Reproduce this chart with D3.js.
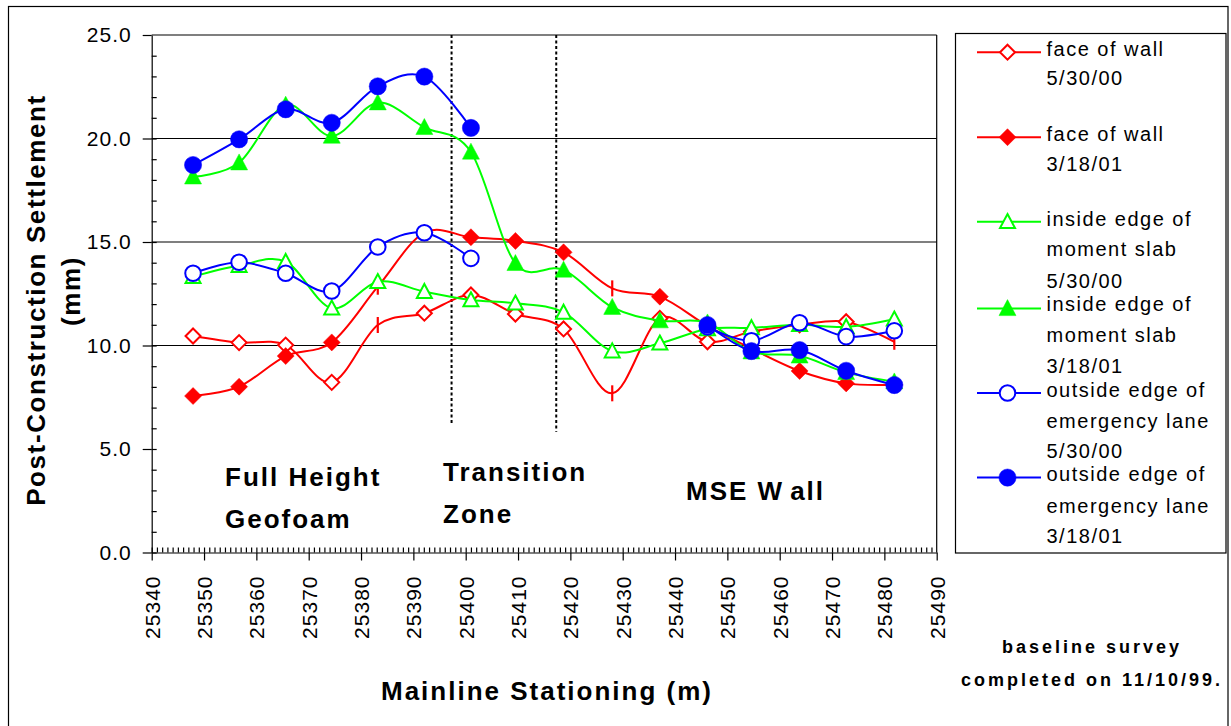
<!DOCTYPE html>
<html><head><meta charset="utf-8">
<script src="https://cdn.jsdelivr.net/npm/d3@7/dist/d3.min.js"></script>
<style>
body{margin:0;background:#fff}
text{font-family:"Liberation Sans",Arial,sans-serif;fill:#000}
</style>
</head><body>
<svg id="c" width="1231" height="726"></svg>
<script>
// ---------- data ----------
const stations = [25347.9, 25356.7, 25365.6, 25374.4, 25383.2, 25392.1, 25401.0, 25409.5,
                  25418.7, 25428.0, 25437.1, 25446.2, 25454.6, 25463.8, 25472.7, 25481.9];
const faceWall_053000 = [10.46, 10.14, 10.02, 8.22, 10.99, 11.56, 12.44, 11.52, 10.8, 7.69, 11.31, 10.18, 10.67, 11.0, 11.15, 10.18];
const faceWall_031801 = [7.56, 8.01, 9.49, 10.15, 12.84, 15.45, 15.23, 15.05, 14.5, 12.76, 12.36, 10.95, 9.85, 8.77, 8.17, 8.1];
const slab_053000 = [13.32, 13.86, 14.05, 11.8, 13.08, 12.6, 12.2, 12.04, 11.6, 9.73, 10.11, 10.8, 10.85, 11.0, 10.9, 11.27];
const slab_031801 = [18.15, 18.83, 21.62, 20.12, 21.73, 20.54, 19.35, 13.97, 13.65, 11.85, 11.2, 11.1, 9.7, 9.5, 8.7, 8.25];
const lane_053000 = [13.49, 14.02, 13.49, 12.63, 14.76, 15.45, 14.21, null, null, null, null, 10.9, 10.23, 11.1, 10.43, 10.71];
const lane_031801 = [18.72, 19.96, 21.41, 20.76, 22.52, 22.99, 20.51, null, null, null, null, 10.99, 9.73, 9.78, 8.78, 8.09];
// points drawn with a vertical dash marker instead of the series marker
const dash_053000 = [4, 9, 15];
const dash_031801 = [4, 9];

const seriesNames = [
  ["face of wall", "5/30/00"],
  ["face of wall", "3/18/01"],
  ["inside edge of", "moment slab", "5/30/00"],
  ["inside edge of", "moment slab", "3/18/01"],
  ["outside edge of", "emergency lane", "5/30/00"],
  ["outside edge of", "emergency lane", "3/18/01"]
];
const yTickValues = [0, 5, 10, 15, 20, 25];
const xTickValues = [25340, 25350, 25360, 25370, 25380, 25390, 25400, 25410, 25420, 25430, 25440, 25450, 25460, 25470, 25480, 25490];
const gridValues = [10, 15, 20, 25];
const zoneBoundaries = [{x: 25397.3, y0: 25, y1: 6.15}, {x: 25417.3, y0: 25, y1: 5.83}];

// ---------- setup ----------
const RED = "#ff0000", GREEN = "#00ff00", BLUE = "#0000ff";
const series = [
  {vals: faceWall_053000, color: RED, shape: "diamond", fill: false, dash: dash_053000},
  {vals: faceWall_031801, color: RED, shape: "diamond", fill: true, dash: dash_031801},
  {vals: slab_053000, color: GREEN, shape: "triangle", fill: false, dash: []},
  {vals: slab_031801, color: GREEN, shape: "triangle", fill: true, dash: []},
  {vals: lane_053000, color: BLUE, shape: "circle", fill: false, dash: []},
  {vals: lane_031801, color: BLUE, shape: "circle", fill: true, dash: []}
];

const svg = d3.select("#c");
const L = 151.7, R = 936.7, T = 35, B = 552.5;
const x = d3.scaleLinear().domain([25340, 25490]).range([L, R]);
const y = d3.scaleLinear().domain([0, 25]).range([B, T]);

// outer frame
svg.append("rect").attr("x", 8.5).attr("y", 6.5).attr("width", 1219.5).attr("height", 740)
  .attr("fill", "none").attr("stroke", "#000").attr("stroke-width", 1.2);

// gridlines
svg.append("g").selectAll("line").data(gridValues).join("line")
  .attr("x1", L).attr("x2", R).attr("y1", d => y(d)).attr("y2", d => y(d))
  .attr("stroke", "#000").attr("stroke-width", 1.2);
// right border of plot
svg.append("line").attr("x1", R).attr("x2", R).attr("y1", T).attr("y2", B)
  .attr("stroke", "#000").attr("stroke-width", 1.2);

// axes
const yAxis = svg.append("g").attr("transform", `translate(${L},0)`)
  .call(d3.axisLeft(y).tickValues(yTickValues).tickSize(9).tickSizeOuter(0).tickPadding(11).tickFormat(d3.format(".1f")));
const yMinor = svg.append("g").attr("transform", `translate(${L},0)`)
  .call(d3.axisRight(y).tickValues(d3.range(0, 25, 1)).tickSize(5).tickFormat(""));
yMinor.select(".domain").remove();
const xAxis = svg.append("g").attr("transform", `translate(0,${B})`)
  .call(d3.axisBottom(x).tickValues(xTickValues).tickSize(8).tickSizeOuter(0).tickFormat(d3.format("d")));
const xMinor = svg.append("g").attr("transform", `translate(0,${B})`)
  .call(d3.axisTop(x).tickValues(d3.range(25340, 25490, 1)).tickSize(5).tickFormat(""));
xMinor.select(".domain").remove();

svg.selectAll(".tick line, .domain").attr("stroke", "#000").attr("stroke-width", 1.2);
yAxis.selectAll("text").attr("font-size", 21).attr("letter-spacing", "1px")
  .attr("font-family", '"Liberation Sans",Arial,sans-serif').attr("fill", "#000");
xAxis.selectAll("text").attr("font-size", 21).attr("letter-spacing", "1px")
  .attr("font-family", '"Liberation Sans",Arial,sans-serif').attr("fill", "#000")
  .attr("transform", "rotate(-90)").attr("text-anchor", "end")
  .attr("x", -23).attr("y", 0).attr("dy", "0.35em");

// zone boundary dotted lines
svg.append("g").selectAll("line").data(zoneBoundaries).join("line")
  .attr("x1", d => x(d.x)).attr("x2", d => x(d.x)).attr("y1", d => y(d.y0)).attr("y2", d => y(d.y1))
  .attr("stroke", "#000").attr("stroke-width", 2).attr("stroke-dasharray", "3,2.5");

// markers
function markerPath(shape, cx, cy, open) {
  if (shape === "diamond") {
    const h = open ? 7.5 : 8.5;
    return `M${cx},${cy - h}L${cx + h},${cy}L${cx},${cy + h}L${cx - h},${cy}Z`;
  }
  if (shape === "triangle") {
    const w = open ? 7.5 : 8.5, ht = open ? 14 : 16;
    return `M${cx},${cy - ht * 0.55}L${cx + w},${cy + ht * 0.45}L${cx - w},${cy + ht * 0.45}Z`;
  }
  const r = open ? 7.8 : 8.6;
  return `M${cx - r},${cy}A${r},${r} 0 1,0 ${cx + r},${cy}A${r},${r} 0 1,0 ${cx - r},${cy}Z`;
}

const line = d3.line().defined(d => d.v != null)
  .x(d => x(d.s)).y(d => y(d.v)).curve(d3.curveCatmullRom.alpha(0));

series.forEach(sr => {
  const pts = stations.map((s, i) => ({s, v: sr.vals[i], i}));
  const g = svg.append("g");
  g.append("path").datum(pts).attr("d", line).attr("fill", "none")
    .attr("stroke", sr.color).attr("stroke-width", 2);
  const valid = pts.filter(d => d.v != null);
  g.selectAll("path.m").data(valid.filter(d => !sr.dash.includes(d.i))).join("path")
    .attr("class", "m")
    .attr("d", d => markerPath(sr.shape, x(d.s), y(d.v), !sr.fill))
    .attr("fill", sr.fill ? sr.color : "#fff")
    .attr("stroke", sr.color).attr("stroke-width", sr.fill ? 0.5 : 2);
  g.selectAll("line.dm").data(valid.filter(d => sr.dash.includes(d.i))).join("line")
    .attr("class", "dm")
    .attr("x1", d => x(d.s)).attr("x2", d => x(d.s))
    .attr("y1", d => y(d.v) - 8).attr("y2", d => y(d.v) + 8)
    .attr("stroke", sr.color).attr("stroke-width", 2.2);
});

// region labels
const regionFont = {size: 26, ls: "2px"};
function boldText(tx, ty, str, size, ls, anchor) {
  return svg.append("text").attr("x", tx).attr("y", ty).text(str)
    .attr("font-size", size).attr("font-weight", "bold").attr("letter-spacing", ls)
    .attr("text-anchor", anchor || "start");
}
boldText(225, 486, "Full Height", regionFont.size, regionFont.ls);
boldText(225, 528, "Geofoam", regionFont.size, regionFont.ls);
boldText(443, 481, "Transition", regionFont.size, regionFont.ls);
boldText(443, 523, "Zone", regionFont.size, regionFont.ls);
const mse = svg.append("text").attr("x", 686).attr("y", 500)
  .attr("font-size", regionFont.size).attr("font-weight", "bold").attr("letter-spacing", regionFont.ls);
mse.append("tspan").text("MSE W");
mse.append("tspan").attr("dx", 7).text("all");

// axis titles
boldText(547, 700, "Mainline Stationing (m)", 26, "2px", "middle");
svg.append("text").attr("transform", "translate(45,300) rotate(-90)").text("Post-Construction Settlement")
  .attr("font-size", 26).attr("font-weight", "bold").attr("letter-spacing", "1.6px").attr("text-anchor", "middle");
svg.append("text").attr("transform", "translate(80,291) rotate(-90)").text("(mm)")
  .attr("font-size", 26).attr("font-weight", "bold").attr("letter-spacing", "1.6px").attr("text-anchor", "middle");

// note
boldText(1092, 653, "baseline survey", 18, "3px", "middle");
boldText(1092, 686, "completed on 11/10/99.", 18, "3px", "middle");

// legend
svg.append("rect").attr("x", 955.5).attr("y", 33.5).attr("width", 270.5).attr("height", 519.5)
  .attr("fill", "#fff").attr("stroke", "#000").attr("stroke-width", 1.2);
const legLineY = [52.2, 137.2, 221.7, 308.4, 393, 477.6];
const legTextY = [[48.7, 78.4], [133.7, 164.1], [219, 248.7, 280.5], [303.9, 334.6, 365.7], [389.5, 421, 451.4], [474.4, 505.9, 535.6]];
series.forEach((sr, k) => {
  const g = svg.append("g");
  g.append("line").attr("x1", 977).attr("x2", 1041).attr("y1", legLineY[k]).attr("y2", legLineY[k])
    .attr("stroke", sr.color).attr("stroke-width", 2);
  g.append("path").attr("d", markerPath(sr.shape, 1007.5, legLineY[k], !sr.fill))
    .attr("fill", sr.fill ? sr.color : "#fff").attr("stroke", sr.color).attr("stroke-width", sr.fill ? 0.5 : 2);
  seriesNames[k].forEach((t, j) => {
    g.append("text").attr("x", 1046.5).attr("y", legTextY[k][j] + 7).text(t)
      .attr("font-size", 20).attr("letter-spacing", "1.5px");
  });
});
</script>
</body></html>
